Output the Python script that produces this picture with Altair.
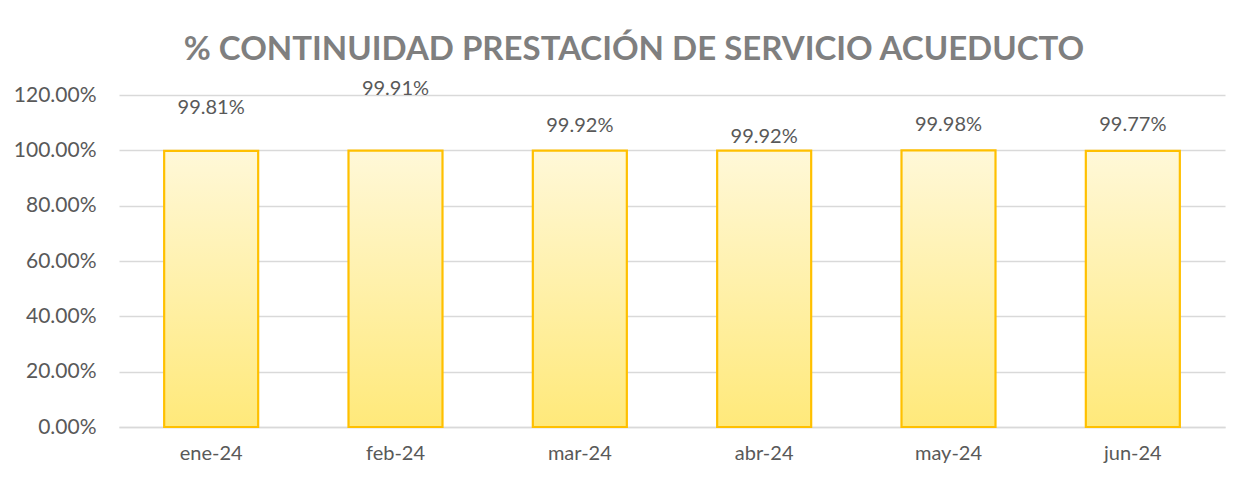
import altair as alt
import pandas as pd

months = ["ene-24", "feb-24", "mar-24", "abr-24", "may-24", "jun-24"]
values = [0.9981, 0.9991, 0.9992, 0.9992, 0.9998, 0.9977]
labels = ["99.81%", "99.91%", "99.92%", "99.92%", "99.98%", "99.77%"]
# label anchor heights (data units)
label_level = [1.153, 1.222, 1.088, 1.048, 1.091, 1.091]
y_ticks = [0, 0.2, 0.4, 0.6, 0.8, 1.0, 1.2]

df = pd.DataFrame({"mes": months, "valor": values, "etiqueta": labels, "nivel": label_level})

FONT = "Lato"
GRAY = "#595959"

x = alt.X("mes:N", sort=months, title=None,
          scale=alt.Scale(paddingInner=0.49, paddingOuter=0.245),
          axis=alt.Axis(labelAngle=0, labelFont=FONT, labelFontSize=20, labelColor=GRAY,
                        ticks=False, domain=True, domainColor="#d9d9d9", domainWidth=1.5,
                        labelPadding=16, grid=False))

bars = alt.Chart(df).mark_bar(
    color=alt.Gradient(gradient="linear", x1=0, x2=0, y1=0, y2=1,
                       stops=[alt.GradientStop(color="#FFF8D8", offset=0),
                              alt.GradientStop(color="#FFE97A", offset=1)]),
    stroke="#FFC000", strokeWidth=2.2,
).encode(
    x=x,
    y=alt.Y("valor:Q", title=None,
            scale=alt.Scale(domain=[0, 1.2], nice=False),
            axis=alt.Axis(values=y_ticks, format=".2%", labelFont=FONT, labelFontSize=21,
                          labelColor=GRAY, ticks=False, domain=False, labelPadding=23,
                          gridColor="#d9d9d9", gridWidth=1.5)),
)

text = alt.Chart(df).mark_text(font=FONT, fontSize=20, color=GRAY, baseline="middle").encode(
    x=alt.X("mes:N", sort=months),
    y=alt.Y("nivel:Q"),
    text="etiqueta:N",
)

chart = alt.layer(bars, text).properties(
    width=1106, height=332,
    background="white",
    title=alt.TitleParams("% CONTINUIDAD PRESTACIÓN DE SERVICIO ACUEDUCTO", font=FONT,
                          fontSize=33, fontWeight="bold", color="#7f7f7f",
                          anchor="middle", offset=12, dx=-38),
    padding={"left": 5, "top": 25, "right": 10, "bottom": 10},
).configure_view(stroke=None)

chart.save("out.html", embed_options={"renderer": "svg", "actions": False})
